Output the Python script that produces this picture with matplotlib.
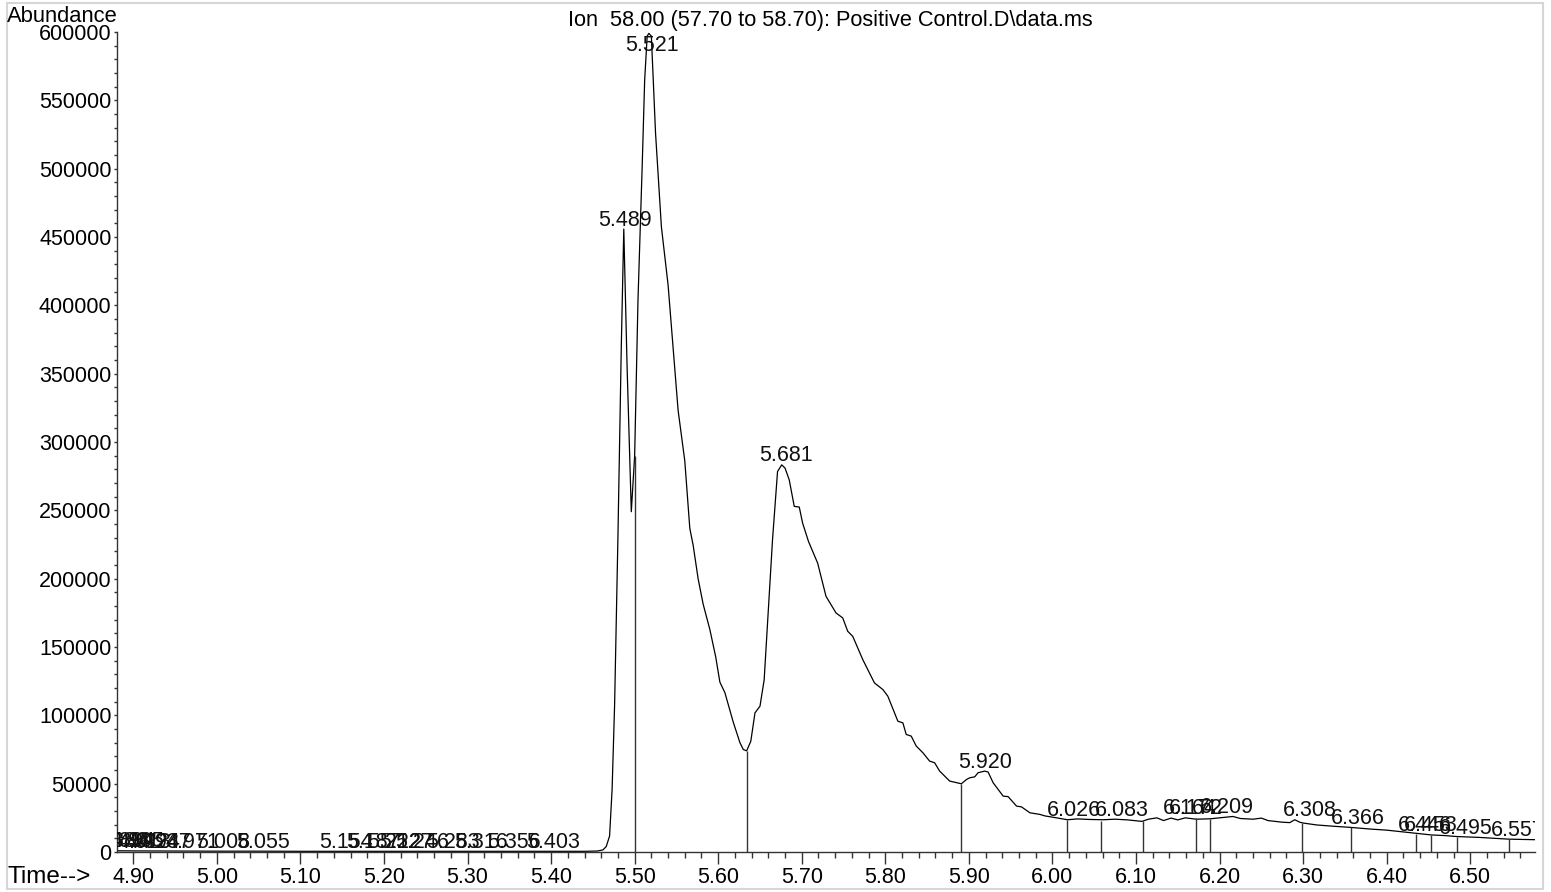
import matplotlib
matplotlib.use('Agg')
import matplotlib.pyplot as plt
from matplotlib.ticker import MultipleLocator, FormatStrFormatter
from matplotlib.patches import Rectangle

plt.rcParams['font.family'] = ['Liberation Sans', 'DejaVu Sans']

# ion chromatogram (retention time in min, abundance)
rt = [4.880, 4.900, 4.950, 5.000, 5.050, 5.100, 5.150, 5.200, 5.250, 5.300,
      5.350, 5.400, 5.440, 5.455, 5.462, 5.466, 5.470, 5.473, 5.476, 5.480,
      5.484, 5.487, 5.491, 5.496, 5.500, 5.504, 5.509, 5.512, 5.515, 5.517,
      5.520, 5.525, 5.532, 5.540, 5.546, 5.552, 5.560, 5.566, 5.570, 5.576,
      5.582, 5.590, 5.597, 5.602, 5.608, 5.618, 5.626, 5.630, 5.634, 5.639,
      5.644, 5.650, 5.655, 5.661, 5.665, 5.671, 5.676, 5.680, 5.685, 5.691,
      5.697, 5.701, 5.708, 5.719, 5.729, 5.741, 5.749, 5.755, 5.761, 5.773,
      5.787, 5.797, 5.803, 5.815, 5.821, 5.825, 5.831, 5.837, 5.845, 5.853,
      5.859, 5.865, 5.877, 5.891, 5.897, 5.901, 5.907, 5.911, 5.919, 5.923,
      5.929, 5.941, 5.947, 5.957, 5.963, 5.973, 5.985, 5.991, 6.000, 6.018,
      6.030, 6.045, 6.061, 6.075, 6.090, 6.107, 6.115, 6.125, 6.133, 6.142,
      6.150, 6.159, 6.172, 6.189, 6.200, 6.216, 6.225, 6.240, 6.250, 6.258,
      6.275, 6.284, 6.290, 6.296, 6.300, 6.316, 6.335, 6.357, 6.380, 6.400,
      6.420, 6.435, 6.445, 6.453, 6.470, 6.484, 6.510, 6.546, 6.578]
abundance = [900, 800, 700, 600, 600, 500, 500, 500, 500, 450,
             450, 450, 500, 700, 1500, 4000, 11700, 45600, 107300, 230700,
             369500, 455800, 354000, 249000, 290000, 404000, 501500, 565000, 597000, 599000,
             597000, 526000, 457500, 415000, 369500, 323200, 286200, 236900, 224500, 199800,
             181300, 162800, 142800, 124300, 116600, 95000, 80000, 75000, 74000, 81000,
             101800, 106700, 126000, 187000, 228500, 278400, 283300, 280900, 272300, 252900,
             252400, 240700, 227300, 211400, 187100, 174900, 171300, 161500, 157800, 140800,
             123700, 118900, 114000, 95700, 94500, 86000, 84800, 77500, 72600, 66500,
             65300, 59200, 51900, 49900, 53000, 54300, 55000, 58000, 59200, 58500,
             50700, 40900, 40500, 33600, 33000, 28700, 27500, 26400, 25500, 23600,
             24200, 23800, 23600, 24000, 23500, 22400, 24000, 25000, 23000, 24800,
             23500, 25000, 24000, 24300, 25000, 26000, 24500, 24000, 24800, 23000,
             21800, 21500, 23600, 21800, 21200, 19800, 18900, 18000, 16800, 16000,
             14700, 13800, 13000, 12500, 12000, 11300, 10700, 9400, 9000]

# integration boundaries drawn as drop lines
bound_rt = [5.500, 5.634, 5.891, 6.018, 6.058, 6.108, 6.172, 6.189,
            6.299, 6.357, 6.435, 6.453, 6.484, 6.546]
bound_top = [290000, 74000, 49900, 23600, 22900, 22400, 24800, 24300,
             21200, 18200, 13500, 12700, 11300, 9400]

# peak labels
peak_rt = [4.886, 4.894, 4.905, 4.913, 4.924, 4.937, 4.971, 5.008, 5.055,
           5.154, 5.187, 5.212, 5.227, 5.246, 5.283, 5.316, 5.356, 5.403,
           5.489, 5.521, 5.681, 5.920, 6.026, 6.083, 6.164, 6.172, 6.209,
           6.308, 6.366, 6.446, 6.453, 6.495, 6.557]
peak_top = [800, 800, 800, 700, 700, 700, 650, 600, 600,
            500, 500, 500, 500, 500, 450, 450, 450, 450,
            455800, 599000, 283300, 59200, 23600, 23600, 25000, 25000, 26000,
            23600, 18000, 13000, 12700, 11000, 9400]

title = 'Ion  58.00 (57.70 to 58.70): Positive Control.D\\data.ms'

FS = 15.5
W, H = 1551, 892
fig = plt.figure(figsize=(W / 100, H / 100), dpi=100)
ax = fig.add_axes([117 / W, 40 / H, (1535 - 117) / W, (852 - 32) / H])

ax.plot(rt, abundance, color='black', lw=0.9)
ax.vlines(bound_rt, 0, bound_top, colors='#333333', lw=1.0)

for t, h in zip(peak_rt, peak_top):
    if h > 560000:
        ax.text(t, 600000 - 2500, '%.3f' % t, ha='center', va='top',
                fontsize=FS, color='#111111', clip_on=True)
    else:
        ax.text(t, h + 2500, '%.3f' % t, ha='center', va='baseline',
                fontsize=FS, color='#111111', clip_on=True)

ax.set_xlim(4.8805, 6.5775)
ax.set_ylim(0, 600000)

ax.xaxis.set_major_locator(MultipleLocator(0.1))
ax.xaxis.set_minor_locator(MultipleLocator(0.02))
ax.xaxis.set_major_formatter(FormatStrFormatter('%.2f'))
ax.yaxis.set_major_locator(MultipleLocator(50000))
ax.yaxis.set_minor_locator(MultipleLocator(10000))
ax.yaxis.set_major_formatter(FormatStrFormatter('%d'))

for side in ['top', 'right']:
    ax.spines[side].set_visible(False)
for side in ['left', 'bottom']:
    ax.spines[side].set_color('#333333')
    ax.spines[side].set_linewidth(1.0)

ax.tick_params(axis='x', which='major', length=8.6, width=1, pad=2.5,
               labelsize=FS, color='#333333')
ax.tick_params(axis='x', which='minor', length=4.3, width=1, color='#333333')
ax.tick_params(axis='y', which='major', length=2.5, width=1, pad=1.5,
               labelsize=FS, color='#333333')
ax.tick_params(axis='y', which='minor', length=2.2, width=1, color='#333333')

ax.set_title(title, fontsize=15.7, pad=4, x=0.503)
fig.text(7 / W, 1 - 6 / H, 'Abundance', fontsize=15.8, ha='left', va='top')
fig.text(8 / W, 1 - 877 / H, 'Time-->', fontsize=17.5, ha='left', va='center')

fig.add_artist(Rectangle((7 / W, 3 / H), 1536 / W, 886 / H, transform=fig.transFigure,
                         fill=False, edgecolor='#d6d6d6', lw=1.5))

fig.savefig('out.png', dpi=100)
